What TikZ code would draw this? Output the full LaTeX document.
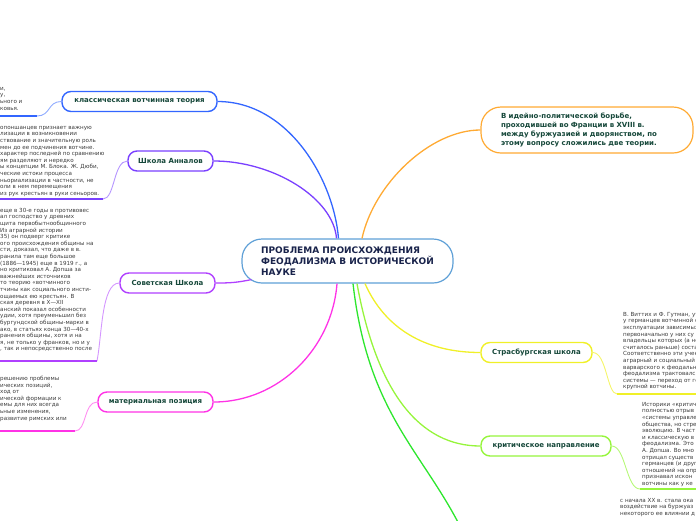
\documentclass[tikz,border=0pt]{standalone}
\usepackage{fontspec}
\setmainfont{DejaVu Sans}
\usetikzlibrary{calc}
\definecolor{ctrline}{RGB}{95,160,215}
\definecolor{ctrtext}{RGB}{25,35,75}
\definecolor{branchtext}{RGB}{22,72,58}
\definecolor{notetext}{RGB}{60,60,60}
\definecolor{cclassic}{RGB}{51,102,255}
\definecolor{cannales}{RGB}{122,64,255}
\definecolor{csoviet}{RGB}{176,64,255}
\definecolor{cmaterial}{RGB}{255,51,230}
\definecolor{corange}{RGB}{255,170,51}
\definecolor{cyellow}{RGB}{240,240,40}
\definecolor{ccritic}{RGB}{150,245,60}
\definecolor{cgreen}{RGB}{45,230,45}
\tikzset{
  branch/.style={draw, fill=white, rounded corners=9pt, line width=1.4pt,
                 minimum height=20pt, inner xsep=8pt, text=branchtext,
                 font=\bfseries\fontsize{7}{9}\selectfont},
  note/.style={anchor=north west, align=left, inner sep=0pt, text=notetext,
               font=\fontsize{5.6}{6.6}\selectfont},
  link/.style={line width=1.3pt},
  sublink/.style={line width=0.9pt},
  uline/.style={line width=1.6pt}
}

\begin{document}
\begin{tikzpicture}[x=1pt, y=-1pt]
  \useasboundingbox (0,0) rectangle (696,520);
  \clip (0,0) rectangle (696,520);

  % --- Central topic ---
  \node[draw=ctrline, fill=white, line width=1.2pt, rounded corners=20pt,
        minimum height=44pt, minimum width=211pt, align=left,
        text=ctrtext, font=\bfseries\fontsize{9}{11}\selectfont]
        (ctr) at (347.5,261) {ПРОБЛЕМА ПРОИСХОЖДЕНИЯ\\ФЕОДАЛИЗМА В ИСТОРИЧЕСКОЙ\\НАУКЕ};

  \node[draw=corange, fill=white, line width=1.2pt, rounded corners=20pt,
        minimum height=46pt, inner xsep=20pt, text width=172pt, align=left,
        text=branchtext, font=\bfseries\fontsize{7}{9}\selectfont]
        (intro) at (587,130) {В идейно-политической борьбе,\\проходившей во Франции в XVIII в.\\между буржуазией и дворянством, по\\этому вопросу сложились две теории.};

  % --- Branches ---
  \node[branch, draw=cclassic,  minimum width=155pt] (classic) at (139.5,101.5) {классическая вотчинная теория};
  \node[branch, draw=cannales,  minimum width=85pt]  (annales) at (170.5,161)   {Школа Анналов};
  \node[branch, draw=csoviet,   minimum width=95pt]  (soviet)  at (167.5,283)   {Советская Школа};
  \node[branch, draw=cmaterial, minimum width=115pt] (matpos)  at (155.5,402)   {материальная позиция};
  \node[branch, draw=cyellow,   minimum width=111pt] (stras)   at (536.5,352.5) {Страсбургская школа};
  \node[branch, draw=ccritic,   minimum width=130pt] (critic)  at (546,446)     {критическое направление};

  % --- Notes ---
  \node[note] (nclassic) at (0,87) {и,\\у,\\ьного и\\ковья.};
  \node[note] (nannales) at (0,126) {опоншанцев признает важную\\лизации в возникновении\\ствование и значительную роль\\мен до ее подчинения вотчине.\\характер последней по сравнению\\ям разделяют и нередко\\ы концепции М. Блока. Ж. Дюби,\\ческие истоки процесса\\ньориализации в частности, не\\оли в нем перемещения\\из рук крестьян в руки сеньоров.};
  \node[note] (nsoviet) at (0,208) {еще в 30-е годы в противовес\\ал господство у древних\\щита первобытнообщинного\\Из аграрной истории\\35) он подверг критике\\ого происхождения общины на\\сти, доказал, что даже в в.\\ранила там еще большое\\(1886—1945) еще в 1919 г., а\\но критиковал А. Допша за\\важнейших источников\\то теорию «вотчинного\\тчины как социального инсти-\\ощаемых ею крестьян. В\\ская деревня в X—XII\\анский показал особенности\\удии, хотя преуменьшил без\\бургундской общины-марки в\\ако, в статьях конца 30—40-х\\ранения общины, хотя и на\\я, не только у франков, но и у\\, так и непосредственно после};
  \node[note] (nmatpos) at (0,376) {решению проблемы\\ических позиций,\\ход от\\ической формации к\\емы для них всегда\\ьные изменения,\\развитие римских или};
  \node[note] (nstras) at (623,312) {В. Виттих и Ф. Гутман, ут\\у германцев вотчинной с\\эксплуатации зависимых\\первоначально у них су\\владельцы которых (а не\\считалось раньше) соста\\Соответственно эти учен\\аграрный и социальный\\варварского к феодальн\\феодализма трактовался\\системы — переход от го\\крупной вотчины.};
  \node[note] (ncritic) at (642,402) {Историки «критич\\полностью отрыв\\«системы управле\\общества, но стре\\эволюцию. В част\\и классическую в\\феодализма. Это\\А. Допша. Во мно\\отрицал существ\\германцев (и друг\\отношений на опр\\признавал искон\\вотчины как у ке};
  \node[note] (nbottom) at (620,498) {с начала XX в. стала ока\\воздействие на буржуаз\\некоторого ее влиянии д};

  % --- Underline ends ---
  \coordinate (ulA) at (37,116);   \coordinate (ulA0) at (0,116);
  \coordinate (ulB) at (103,199);  \coordinate (ulB0) at (0,199);
  \coordinate (ulC) at (97,361);   \coordinate (ulC0) at (0,361);
  \coordinate (ulD) at (75,431);   \coordinate (ulD0) at (0,431);
  \coordinate (ulE) at (617,394);  \coordinate (ulE1) at (696,394);
  \coordinate (ulF) at (640,489);  \coordinate (ulF1) at (696,489);
  \coordinate (offgreen) at (462,530);

  % --- Main links ---
  \draw[link, cclassic]  (classic.east) .. controls +(70,0) and +(-5,-60) .. ($(ctr.north)+(-9,0)$);
  \draw[link, cannales]  (annales.east) .. controls +(60,0) and +(-3,-40) .. ($(ctr.north)+(-11,0)$);
  \draw[link, corange]   ($(ctr.north)+(14.5,0)$) .. controls +(12,-55) and +(-50,0) .. (intro.west);
  \draw[link, csoviet]   ($(ctr.south west)+(10,-4)$) .. controls +(-15,3) and +(15,0) .. (soviet.east);
  \draw[link, cmaterial] ($(ctr.south)+(-10.5,0)$) .. controls +(-5,65) and +(65,0) .. (matpos.east);
  \draw[link, cyellow]   ($(ctr.south)+(17.5,0)$) .. controls +(20,45) and +(-55,0) .. (stras.west);
  \draw[link, ccritic]   ($(ctr.south)+(9.5,0)$) .. controls +(20,110) and +(-60,0) .. (critic.west);
  \draw[link, cgreen]    ($(ctr.south)+(5.5,0)$) .. controls +(15,130) and +(-40,-80) .. (offgreen);

  % --- Sub links ---
  \draw[sublink, cclassic!55]  (classic.west) .. controls +(-14,0) and +(14,0) .. (ulA);
  \draw[sublink, cannales!55]  (annales.west) .. controls +(-14,0) and +(12,0) .. (ulB);
  \draw[sublink, csoviet!55]   (soviet.west) .. controls +(-18,0) and +(5,-25) .. (ulC);
  \draw[sublink, cmaterial!55] (matpos.west) .. controls +(-14,0) and +(12,0) .. (ulD);
  \draw[sublink, cyellow!70]   (stras.east) .. controls +(14,0) and +(-10,0) .. (ulE);
  \draw[sublink, ccritic!70]   (critic.east) .. controls +(14,0) and +(-14,0) .. (ulF);

  \draw[uline, cclassic]  (ulA) -- (ulA0);
  \draw[uline, cannales]  (ulB) -- (ulB0);
  \draw[uline, csoviet]   (ulC) -- (ulC0);
  \draw[uline, cmaterial] (ulD) -- (ulD0);
  \draw[uline, cyellow]   (ulE) -- (ulE1);
  \draw[uline, ccritic]   (ulF) -- (ulF1);
\end{tikzpicture}
\end{document}
